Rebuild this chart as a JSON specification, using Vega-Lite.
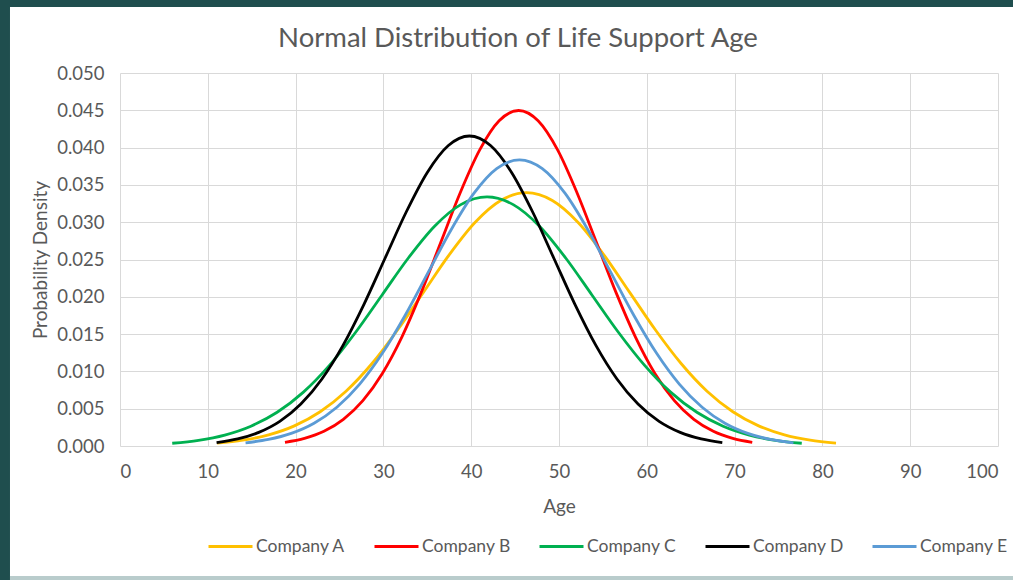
{
  "$schema": "https://vega.github.io/schema/vega-lite/v6.json",
  "width": 878,
  "height": 373,
  "autosize": {"type": "none"},
  "padding": {"left": 120, "top": 73, "right": 15, "bottom": 134},
  "background": "white",
  "config": {
    "view": {"stroke": null},
    "font": "Lato",
    "axis": {
      "grid": true,
      "gridColor": "#d9d9d9",
      "gridWidth": 1,
      "ticks": false,
      "domain": false,
      "labelOverlap": false,
      "labelColor": "#595959",
      "labelFont": "Lato",
      "labelFontSize": 18.5,
      "titleColor": "#595959",
      "titleFont": "Lato",
      "titleFontSize": 19,
      "titleFontWeight": "normal"
    }
  },
  "title": {
    "text": "Normal Distribution of Life Support Age",
    "font": "Lato",
    "fontSize": 27.5,
    "fontWeight": "normal",
    "color": "#595959",
    "baseline": "alphabetic",
    "dx": -41,
    "dy": 75,
    "offset": 0
  },
  "datasets": {
    "curves": [
      {"company": "Company A", "age": 11.05, "density": 0.000377},
      {"company": "Company A", "age": 13.99, "density": 0.000774},
      {"company": "Company A", "age": 16.93, "density": 0.001492},
      {"company": "Company A", "age": 19.86, "density": 0.002701},
      {"company": "Company A", "age": 22.8, "density": 0.004595},
      {"company": "Company A", "age": 25.74, "density": 0.007343},
      {"company": "Company A", "age": 28.68, "density": 0.011023},
      {"company": "Company A", "age": 31.61, "density": 0.015545},
      {"company": "Company A", "age": 34.55, "density": 0.020594},
      {"company": "Company A", "age": 37.49, "density": 0.025629},
      {"company": "Company A", "age": 40.43, "density": 0.029964},
      {"company": "Company A", "age": 43.36, "density": 0.032908},
      {"company": "Company A", "age": 46.3, "density": 0.033953},
      {"company": "Company A", "age": 49.24, "density": 0.032908},
      {"company": "Company A", "age": 52.18, "density": 0.029964},
      {"company": "Company A", "age": 55.11, "density": 0.025629},
      {"company": "Company A", "age": 58.05, "density": 0.020594},
      {"company": "Company A", "age": 60.99, "density": 0.015545},
      {"company": "Company A", "age": 63.93, "density": 0.011023},
      {"company": "Company A", "age": 66.86, "density": 0.007343},
      {"company": "Company A", "age": 69.8, "density": 0.004595},
      {"company": "Company A", "age": 72.74, "density": 0.002701},
      {"company": "Company A", "age": 75.68, "density": 0.001492},
      {"company": "Company A", "age": 78.61, "density": 0.000774},
      {"company": "Company A", "age": 81.55, "density": 0.000377},
      {"company": "Company B", "age": 18.79, "density": 0.0005},
      {"company": "Company B", "age": 21.01, "density": 0.001025},
      {"company": "Company B", "age": 23.23, "density": 0.001976},
      {"company": "Company B", "age": 25.44, "density": 0.003578},
      {"company": "Company B", "age": 27.66, "density": 0.006087},
      {"company": "Company B", "age": 29.88, "density": 0.009727},
      {"company": "Company B", "age": 32.1, "density": 0.014601},
      {"company": "Company B", "age": 34.31, "density": 0.020591},
      {"company": "Company B", "age": 36.53, "density": 0.027279},
      {"company": "Company B", "age": 38.75, "density": 0.03395},
      {"company": "Company B", "age": 40.97, "density": 0.039691},
      {"company": "Company B", "age": 43.18, "density": 0.043592},
      {"company": "Company B", "age": 45.4, "density": 0.044976},
      {"company": "Company B", "age": 47.62, "density": 0.043592},
      {"company": "Company B", "age": 49.84, "density": 0.039691},
      {"company": "Company B", "age": 52.05, "density": 0.03395},
      {"company": "Company B", "age": 54.27, "density": 0.027279},
      {"company": "Company B", "age": 56.49, "density": 0.020591},
      {"company": "Company B", "age": 58.71, "density": 0.014601},
      {"company": "Company B", "age": 60.92, "density": 0.009727},
      {"company": "Company B", "age": 63.14, "density": 0.006087},
      {"company": "Company B", "age": 65.36, "density": 0.003578},
      {"company": "Company B", "age": 67.58, "density": 0.001976},
      {"company": "Company B", "age": 69.79, "density": 0.001025},
      {"company": "Company B", "age": 72.01, "density": 0.0005},
      {"company": "Company C", "age": 5.95, "density": 0.000371},
      {"company": "Company C", "age": 8.94, "density": 0.000761},
      {"company": "Company C", "age": 11.93, "density": 0.001467},
      {"company": "Company C", "age": 14.91, "density": 0.002656},
      {"company": "Company C", "age": 17.9, "density": 0.004518},
      {"company": "Company C", "age": 20.89, "density": 0.00722},
      {"company": "Company C", "age": 23.88, "density": 0.010838},
      {"company": "Company C", "age": 26.86, "density": 0.015284},
      {"company": "Company C", "age": 29.85, "density": 0.020248},
      {"company": "Company C", "age": 32.84, "density": 0.0252},
      {"company": "Company C", "age": 35.83, "density": 0.029461},
      {"company": "Company C", "age": 38.81, "density": 0.032357},
      {"company": "Company C", "age": 41.8, "density": 0.033384},
      {"company": "Company C", "age": 44.79, "density": 0.032357},
      {"company": "Company C", "age": 47.78, "density": 0.029461},
      {"company": "Company C", "age": 50.76, "density": 0.0252},
      {"company": "Company C", "age": 53.75, "density": 0.020248},
      {"company": "Company C", "age": 56.74, "density": 0.015284},
      {"company": "Company C", "age": 59.73, "density": 0.010838},
      {"company": "Company C", "age": 62.71, "density": 0.00722},
      {"company": "Company C", "age": 65.7, "density": 0.004518},
      {"company": "Company C", "age": 68.69, "density": 0.002656},
      {"company": "Company C", "age": 71.68, "density": 0.001467},
      {"company": "Company C", "age": 74.66, "density": 0.000761},
      {"company": "Company C", "age": 77.65, "density": 0.000371},
      {"company": "Company D", "age": 11.0, "density": 0.000462},
      {"company": "Company D", "age": 13.4, "density": 0.000947},
      {"company": "Company D", "age": 15.8, "density": 0.001826},
      {"company": "Company D", "age": 18.2, "density": 0.003306},
      {"company": "Company D", "age": 20.6, "density": 0.005624},
      {"company": "Company D", "age": 23.0, "density": 0.008987},
      {"company": "Company D", "age": 25.4, "density": 0.013491},
      {"company": "Company D", "age": 27.8, "density": 0.019026},
      {"company": "Company D", "age": 30.2, "density": 0.025205},
      {"company": "Company D", "age": 32.6, "density": 0.031368},
      {"company": "Company D", "age": 35.0, "density": 0.036673},
      {"company": "Company D", "age": 37.4, "density": 0.040277},
      {"company": "Company D", "age": 39.8, "density": 0.041556},
      {"company": "Company D", "age": 42.2, "density": 0.040277},
      {"company": "Company D", "age": 44.6, "density": 0.036673},
      {"company": "Company D", "age": 47.0, "density": 0.031368},
      {"company": "Company D", "age": 49.4, "density": 0.025205},
      {"company": "Company D", "age": 51.8, "density": 0.019026},
      {"company": "Company D", "age": 54.2, "density": 0.013491},
      {"company": "Company D", "age": 56.6, "density": 0.008987},
      {"company": "Company D", "age": 59.0, "density": 0.005624},
      {"company": "Company D", "age": 61.4, "density": 0.003306},
      {"company": "Company D", "age": 63.8, "density": 0.001826},
      {"company": "Company D", "age": 66.2, "density": 0.000947},
      {"company": "Company D", "age": 68.6, "density": 0.000462},
      {"company": "Company E", "age": 14.3, "density": 0.000426},
      {"company": "Company E", "age": 16.9, "density": 0.000874},
      {"company": "Company E", "age": 19.5, "density": 0.001686},
      {"company": "Company E", "age": 22.1, "density": 0.003052},
      {"company": "Company E", "age": 24.7, "density": 0.005192},
      {"company": "Company E", "age": 27.3, "density": 0.008296},
      {"company": "Company E", "age": 29.9, "density": 0.012454},
      {"company": "Company E", "age": 32.5, "density": 0.017562},
      {"company": "Company E", "age": 35.1, "density": 0.023267},
      {"company": "Company E", "age": 37.7, "density": 0.028956},
      {"company": "Company E", "age": 40.3, "density": 0.033853},
      {"company": "Company E", "age": 42.9, "density": 0.03718},
      {"company": "Company E", "age": 45.5, "density": 0.03836},
      {"company": "Company E", "age": 48.1, "density": 0.03718},
      {"company": "Company E", "age": 50.7, "density": 0.033853},
      {"company": "Company E", "age": 53.3, "density": 0.028956},
      {"company": "Company E", "age": 55.9, "density": 0.023267},
      {"company": "Company E", "age": 58.5, "density": 0.017562},
      {"company": "Company E", "age": 61.1, "density": 0.012454},
      {"company": "Company E", "age": 63.7, "density": 0.008296},
      {"company": "Company E", "age": 66.3, "density": 0.005192},
      {"company": "Company E", "age": 68.9, "density": 0.003052},
      {"company": "Company E", "age": 71.5, "density": 0.001686},
      {"company": "Company E", "age": 74.1, "density": 0.000874},
      {"company": "Company E", "age": 76.7, "density": 0.000426}
    ]
  },
  "layer": [
    {
      "data": {"values": [{}]},
      "mark": {"type": "rect", "color": "#1f4e4e"},
      "encoding": {
        "x": {"datum": -14, "type": "quantitative", "scale": {"domain": [0, 100], "nice": false}, "axis": {"title": "Age", "grid": true, "values": [0, 10, 20, 30, 40, 50, 60, 70, 80, 90, 100], "labelPadding": 16, "titlePadding": 17}},
        "x2": {"datum": -12.53},
        "y": {"datum": -0.02, "type": "quantitative", "scale": {"domain": [0, 0.05], "nice": false}, "axis": {"title": "Probability Density", "grid": true, "values": [0, 0.005, 0.01, 0.015, 0.02, 0.025, 0.03, 0.035, 0.04, 0.045, 0.05], "format": ".3f", "labelPadding": 16, "titlePadding": 6}},
        "y2": {"datum": 0.0598}
      }
    },
    {
      "data": {"values": [{}]},
      "mark": {"type": "rect", "color": "#1f4e4e"},
      "encoding": {
        "x": {"datum": -14, "type": "quantitative", "scale": {"domain": [0, 100], "nice": false}, "axis": {"title": "Age", "grid": true, "values": [0, 10, 20, 30, 40, 50, 60, 70, 80, 90, 100], "labelPadding": 16, "titlePadding": 17}},
        "x2": {"datum": 105},
        "y": {"datum": 0.05885, "type": "quantitative", "scale": {"domain": [0, 0.05], "nice": false}, "axis": {"title": "Probability Density", "grid": true, "values": [0, 0.005, 0.01, 0.015, 0.02, 0.025, 0.03, 0.035, 0.04, 0.045, 0.05], "format": ".3f", "labelPadding": 16, "titlePadding": 6}},
        "y2": {"datum": 0.0598}
      }
    },
    {
      "data": {"values": [{}]},
      "mark": {"type": "rect", "color": "#b9cccc"},
      "encoding": {
        "x": {"datum": -12.53, "type": "quantitative", "scale": {"domain": [0, 100], "nice": false}, "axis": {"title": "Age", "grid": true, "values": [0, 10, 20, 30, 40, 50, 60, 70, 80, 90, 100], "labelPadding": 16, "titlePadding": 17}},
        "x2": {"datum": 105},
        "y": {"datum": -0.02, "type": "quantitative", "scale": {"domain": [0, 0.05], "nice": false}, "axis": {"title": "Probability Density", "grid": true, "values": [0, 0.005, 0.01, 0.015, 0.02, 0.025, 0.03, 0.035, 0.04, 0.045, 0.05], "format": ".3f", "labelPadding": 16, "titlePadding": 6}},
        "y2": {"datum": -0.01743}
      }
    },
    {
      "data": {"name": "curves"},
      "mark": {"type": "line", "interpolate": "monotone", "strokeWidth": 2.8},
      "encoding": {
        "x": {
          "field": "age",
          "type": "quantitative",
          "scale": {"domain": [0, 100], "nice": false},
          "axis": {"title": "Age", "grid": true, "values": [0, 10, 20, 30, 40, 50, 60, 70, 80, 90, 100], "labelPadding": 16, "titlePadding": 17}
        },
        "y": {
          "field": "density",
          "type": "quantitative",
          "scale": {"domain": [0, 0.05], "nice": false},
          "axis": {"title": "Probability Density", "grid": true, "values": [0, 0.005, 0.01, 0.015, 0.02, 0.025, 0.03, 0.035, 0.04, 0.045, 0.05], "format": ".3f", "labelPadding": 16, "titlePadding": 6}
        },
        "color": {
          "field": "company",
          "type": "nominal",
          "scale": {
            "domain": ["Company A", "Company B", "Company C", "Company D", "Company E"],
            "range": ["#FFC000", "#FF0000", "#00B050", "#000000", "#5B9BD5"]
          },
          "legend": {
            "orient": "none",
            "legendX": 87,
            "legendY": 450,
            "direction": "horizontal",
            "columns": 5,
            "title": null,
            "symbolType": "stroke",
            "symbolSize": 1936,
            "symbolStrokeWidth": 3,
            "labelFont": "Lato",
            "labelFontSize": 17.5,
            "labelColor": "#595959",
            "labelOffset": 2,
            "columnPadding": 22,
            "padding": 0,
            "labelLimit": 200
          }
        }
      }
    }
  ]
}
